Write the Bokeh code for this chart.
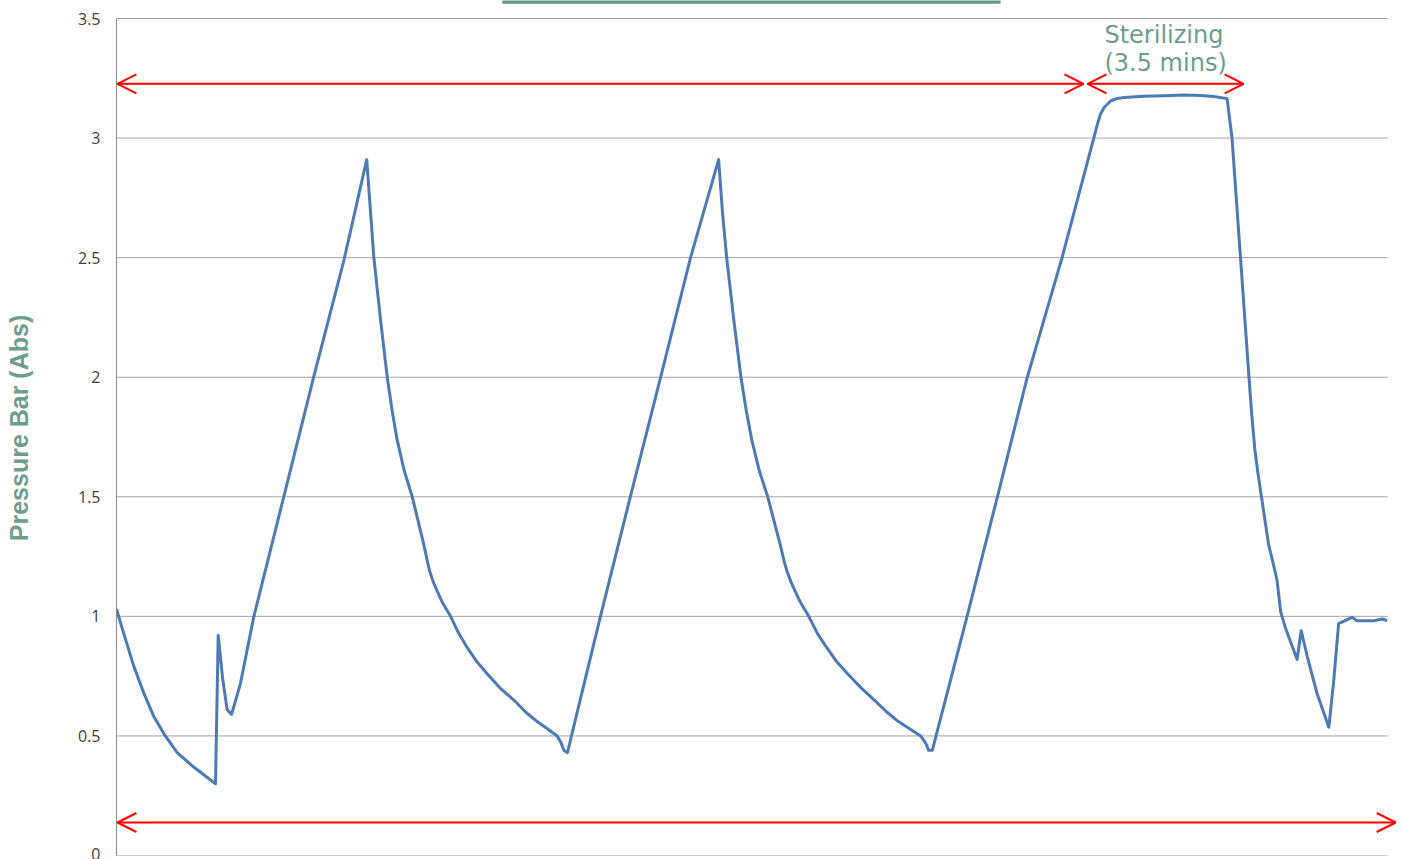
import numpy as np
from bokeh.plotting import figure
from bokeh.models import Range1d, FixedTicker, Arrow, OpenHead, Label, ColumnDataSource
from bokeh.embed import file_html
from bokeh.resources import INLINE

# time in minutes, pressure in bar (abs)
time_min = [0.00, 0.16, 0.39, 0.61, 0.84, 1.06, 1.36, 1.73, 2.22, 2.28, 2.38, 2.48, 2.58, 2.78, 3.08,
            3.75, 4.42, 5.10, 5.61,
            5.70, 5.77, 5.92, 6.07, 6.18, 6.29, 6.45, 6.63, 6.76, 6.89, 6.97, 7.02, 7.11, 7.30, 7.49, 7.67,
            7.86, 8.08, 8.31, 8.60, 8.91, 9.17, 9.43, 9.66, 9.88, 9.97, 10.03, 10.11,
            10.85, 11.52, 12.20, 12.87, 13.50,
            13.59, 13.68, 13.84, 14.00, 14.12, 14.24, 14.41, 14.60, 14.74, 14.88, 14.97, 15.03, 15.13, 15.33,
            15.52, 15.71, 15.92, 16.15, 16.39, 16.70, 16.99, 17.27, 17.53, 17.78, 18.03, 18.14, 18.21, 18.29,
            19.07, 19.75, 20.42, 21.20, 21.91, 21.98, 22.06, 22.15, 22.29, 22.42, 22.59, 23.03, 23.48, 23.93,
            24.30, 24.60, 24.90,
            25.01, 25.20, 25.39, 25.45, 25.52, 25.59, 25.67, 25.75, 25.83, 25.96, 26.02, 26.10, 26.21, 26.47,
            26.56, 26.70, 26.92, 27.18, 27.29, 27.40, 27.52, 27.70, 27.81, 28.19, 28.38, 28.49]
pressure_bar = [1.03, 0.93, 0.79, 0.68, 0.58, 0.51, 0.43, 0.37, 0.30, 0.92, 0.74, 0.61, 0.59, 0.72, 1.00,
                1.50, 2.00, 2.49, 2.91,
                2.68, 2.50, 2.24, 2.00, 1.86, 1.74, 1.61, 1.50, 1.40, 1.30, 1.23, 1.19, 1.14, 1.06, 1.00, 0.93,
                0.87, 0.81, 0.76, 0.70, 0.65, 0.60, 0.56, 0.53, 0.50, 0.47, 0.44, 0.43,
                1.00, 1.50, 2.00, 2.50, 2.91,
                2.68, 2.50, 2.24, 2.00, 1.86, 1.74, 1.61, 1.50, 1.40, 1.30, 1.23, 1.19, 1.14, 1.06,
                1.00, 0.93, 0.87, 0.81, 0.76, 0.70, 0.65, 0.60, 0.56, 0.53, 0.50, 0.47, 0.44, 0.44,
                1.00, 1.50, 2.00, 2.50, 3.00, 3.05, 3.10, 3.13, 3.155, 3.165, 3.17, 3.175, 3.177, 3.18,
                3.178, 3.174, 3.165,
                3.00, 2.50, 2.00, 1.85, 1.70, 1.60, 1.50, 1.40, 1.30, 1.20, 1.15, 1.02, 0.95, 0.82,
                0.94, 0.83, 0.675, 0.536, 0.73, 0.97, 0.98, 0.996, 0.982, 0.982, 0.989, 0.982]

y_ticks = [0, 0.5, 1, 1.5, 2, 2.5, 3, 3.5]
y_tick_labels = ["0", "0.5", "1", "1.5", "2", "2.5", "3", "3.5"]
grid_x_end = 28.5

# phase arrows
arrow_x_start = [0.02, 21.77, 0.02]
arrow_x_end = [21.68, 25.27, 28.68]
arrow_y = [3.227, 3.227, 0.138]

# bottom edge of the (cropped) title box above the chart
title_box_left, title_box_right = 8.65, 19.82
title_box_bottom, title_box_top = 3.562, 3.58

TEAL = "#6e9d8e"

p = figure(width=1397, height=859, x_range=Range1d(0, 28.72), y_range=Range1d(0, 3.5753),
           min_border_left=116, min_border_right=0, min_border_top=0, min_border_bottom=4,
           output_backend="svg", toolbar_location=None, x_axis_location=None)
p.outline_line_color = None
p.xgrid.visible = False
p.ygrid.visible = False
p.background_fill_color = "white"
p.border_fill_color = "white"

# horizontal gridlines
p.segment(x0=[0] * len(y_ticks), x1=[grid_x_end] * len(y_ticks), y0=y_ticks, y1=y_ticks,
          line_color="#a3a3a3", line_width=1)

p.quad(left=[title_box_left], right=[title_box_right], bottom=[title_box_bottom], top=[title_box_top],
       fill_color="#6b988a", line_color=None)

ax = p.yaxis[0]
ax.bounds = (0, 3.5)
ax.ticker = FixedTicker(ticks=y_ticks)
ax.major_label_overrides = {t: l for t, l in zip(y_ticks, y_tick_labels)}
ax.major_tick_out = 0
ax.major_tick_in = 0
ax.minor_tick_out = 0
ax.minor_tick_in = 0
ax.axis_line_color = "#8c8c8c"
ax.major_label_text_font = "Open Sans"
ax.major_label_text_font_size = "16px"
ax.major_label_text_color = "#404040"
ax.major_label_standoff = 16
ax.axis_label = "Pressure Bar (Abs)"
ax.axis_label_text_font = "Liberation Sans"
ax.axis_label_text_font_style = "bold"
ax.axis_label_text_font_size = "25px"
ax.axis_label_text_color = TEAL
ax.axis_label_standoff = 42

src = ColumnDataSource(dict(t=time_min, p=pressure_bar))
p.line("t", "p", source=src, line_color="#4d7ab3", line_width=3, line_join="round")

for xs, xe, ya in zip(arrow_x_start, arrow_x_end, arrow_y):
    p.add_layout(Arrow(start=OpenHead(size=19, line_color="red", line_width=2),
                       end=OpenHead(size=19, line_color="red", line_width=2),
                       x_start=xs, y_start=ya, x_end=xe, y_end=ya,
                       line_color="red", line_width=2))

p.add_layout(Label(x=22.15, y=3.43, text="Sterilizing", text_font="DejaVu Sans",
                   text_font_size="24px", text_color=TEAL, text_align="left", text_baseline="alphabetic"))
p.add_layout(Label(x=22.15, y=3.315, text="(3.5 mins)", text_font="DejaVu Sans",
                   text_font_size="24px", text_color=TEAL, text_align="left", text_baseline="alphabetic"))

open("out.html", "w").write(file_html(p, INLINE))
